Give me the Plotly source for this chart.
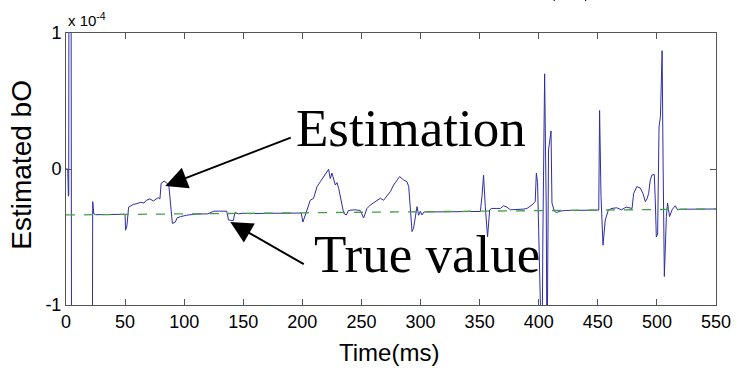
import plotly.graph_objects as go

# Estimated bO (x 1e-4) over time (ms)
t_est = [0, 1.5, 2.0, 2.3, 2.5, 4.3, 4.7, 22.3, 22.6, 23.5, 25, 35, 45, 50, 50.4, 51.5, 53, 55, 57, 60,
         63, 66, 68, 71, 74, 78, 79.5, 80.5, 83, 85, 87, 90, 92.5, 94, 97, 102, 110, 120, 125, 130,
         136, 137.5, 141.5, 143, 146, 150, 156, 170, 185, 199, 200.5, 204, 206.7, 209.5, 212.4, 215.2,
         218, 220.3, 222.2, 223.6, 225, 227.9, 229.3, 230.7, 232, 235, 237.2, 239, 244, 249, 251.8,
         254.7, 257.5, 260.3, 263.1, 266, 268.7, 271.6, 274.4, 277.2, 280, 282.3, 285.7, 288.5, 290,
         291.3, 292.8, 294.1, 295.6, 297, 298.4, 299.8, 301.2, 303, 320, 340, 350.6, 352, 353.3, 354.8,
         356.7, 358.5, 360, 364, 367.5, 370.3, 373, 376, 380, 384, 387, 390, 394.3, 397, 398, 399,
         400.8, 402.8, 403.5, 405, 406.4, 407, 408.3, 410.4, 411.2, 413.2, 415, 418, 422.5, 430, 440,
         450.8, 451.5, 452.7, 454.4, 456.3, 459, 462, 466, 470, 474, 479, 480.3, 483, 486, 488.2,
         490.2, 491.6, 493, 494.4, 495.8, 497.8, 498.7, 499.5, 500.6, 501.8, 503, 504.4, 505.2, 506.3,
         508, 509, 510.7, 512.8, 515.5, 517.5, 520, 535, 550]
v_est = [0, 0, -0.2, -0.19, 1.5, 1.5, -1.5, -1.5, -0.24, -0.33, -0.336, -0.335, -0.334, -0.333, -0.45,
         -0.42, -0.28, -0.27, -0.26, -0.255, -0.245, -0.25, -0.23, -0.22, -0.235, -0.21, -0.22, -0.105,
         -0.09, -0.1, -0.12, -0.4, -0.39, -0.36, -0.35, -0.34, -0.331, -0.33, -0.31, -0.31, -0.31,
         -0.375, -0.38, -0.32, -0.33, -0.325, -0.328, -0.326, -0.325, -0.324, -0.39, -0.29, -0.23,
         -0.215, -0.13, -0.093, -0.056, -0.032, -0.002, -0.07, -0.03, -0.118, -0.1, -0.142, -0.2,
         -0.326, -0.338, -0.305, -0.3, -0.305, -0.36, -0.29, -0.265, -0.25, -0.23, -0.215, -0.23,
         -0.2, -0.167, -0.118, -0.081, -0.056, -0.081, -0.093, -0.13, -0.325, -0.46, -0.435, -0.35,
         -0.277, -0.34, -0.31, -0.338, -0.316, -0.315, -0.313, -0.312, -0.2, -0.044, -0.277, -0.5,
         -0.3, -0.29, -0.29, -0.29, -0.27, -0.28, -0.3, -0.3, -0.3, -0.295, -0.29, -0.265, -0.24,
         -0.03, -0.1, -0.96, -1.5, -0.5, 0.70, -0.33, -1.5, 0.14, 0.28, -0.25, -0.31, -0.32, -0.31,
         -0.305, -0.304, -0.303, -0.302, 0.43, -0.2, -0.56, -0.375, -0.3, -0.29, -0.285, -0.3, -0.28,
         -0.29, -0.18, -0.13, -0.14, -0.18, -0.24, -0.22, -0.18, -0.08, -0.044, -0.04, -0.25, -0.5,
         -0.48, 0.31, 0.385, 0.87, 0.066, -0.79, -0.35, -0.25, -0.35, -0.3, -0.27, -0.3, -0.296,
         -0.295, -0.294]

t_true = [0, 550]
v_true = [-0.338, -0.294]

x_ticks = [0, 50, 100, 150, 200, 250, 300, 350, 400, 450, 500, 550]
y_ticks = [-1, 0, 1]

fig = go.Figure()
fig.add_trace(go.Scatter(x=t_est, y=v_est, mode="lines",
                         line=dict(color="#2e2ea6", width=1), showlegend=False, hoverinfo="skip"))
fig.add_trace(go.Scatter(x=t_true, y=v_true, mode="lines",
                         line=dict(color="#45a045", width=1.3, dash="dash"), showlegend=False,
                         hoverinfo="skip"))

sans = "Liberation Sans, Arial"
axis_common = dict(showline=True, mirror="ticks", linecolor="#555555", linewidth=1,
                   ticks="inside", ticklen=6, tickcolor="#555555", showgrid=False,
                   zeroline=False, automargin=False,
                   tickfont=dict(family=sans, size=18, color="black"))

fig.update_xaxes(range=[0, 550], tickvals=x_ticks, ticktext=[str(v) for v in x_ticks], **axis_common)
fig.update_yaxes(range=[-1, 1], tickvals=y_ticks, ticktext=[str(v) for v in y_ticks], **axis_common)

# axis titles
fig.add_annotation(x=0.497, y=-0.173, xref="paper", yref="paper", text="Time(ms)",
                   showarrow=False, font=dict(family=sans, size=24, color="black"),
                   xanchor="center", yanchor="middle")
fig.add_annotation(x=-0.068, y=0.515, xref="paper", yref="paper", text="Estimated bO",
                   showarrow=False, font=dict(family=sans, size=28, color="black"),
                   textangle=-90, xanchor="center", yanchor="middle")

serif = dict(family="Liberation Serif, Times New Roman", size=53, color="black")
fig.add_annotation(x=84, y=-0.125, xref="x", yref="y", text="", showarrow=True,
                   ax=127, ay=-49, arrowhead=2, arrowsize=2.2, arrowwidth=2, arrowcolor="black")
fig.add_annotation(x=139, y=-0.39, xref="x", yref="y", text="", showarrow=True,
                   ax=75, ay=43, arrowhead=2, arrowsize=2.2, arrowwidth=2, arrowcolor="black")
fig.add_annotation(x=0.531, y=0.649, xref="paper", yref="paper", text="Estimation",
                   showarrow=False, font=serif, xanchor="center", yanchor="middle")
fig.add_annotation(x=0.555, y=0.188, xref="paper", yref="paper", text="True value",
                   showarrow=False, font=serif, xanchor="center", yanchor="middle")
fig.add_annotation(x=0.0, y=1.0, xref="paper", yref="paper", text="x 10<sup>-4</sup>",
                   showarrow=False, font=dict(family=sans, size=15, color="black"),
                   xanchor="left", yanchor="bottom", yshift=2)
fig.add_annotation(x=0.775, y=1.0, xref="paper", yref="paper", text="(1)",
                   showarrow=False, font=serif, xanchor="center", yanchor="bottom", yshift=29)

fig.update_layout(width=740, height=368, margin=dict(l=66, r=24, t=33, b=63),
                  paper_bgcolor="white", plot_bgcolor="white", hovermode=False)

fig.write_html("out.html", config={"displayModeBar": False, "staticPlot": True},
               post_script="document.body.style.margin='0';document.body.style.overflow='hidden';")
